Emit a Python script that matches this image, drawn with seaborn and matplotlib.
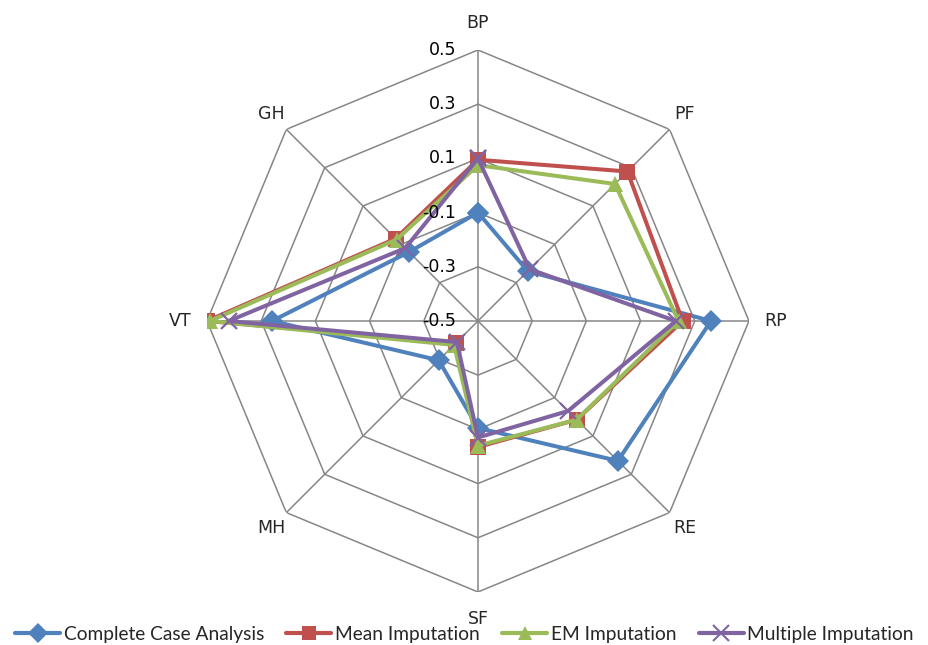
import numpy as np
import pandas as pd
import matplotlib.pyplot as plt
import matplotlib.transforms as mtrans
from matplotlib.lines import Line2D
import seaborn as sns

axes_names = ['BP', 'PF', 'RP', 'RE', 'SF', 'MH', 'VT', 'GH']
complete_case = [-0.10, -0.24, 0.36, 0.23, -0.105, -0.295, 0.26, -0.14]
mean_imp = [0.095, 0.28, 0.255, 0.015, -0.035, -0.385, 0.50, -0.07]
em_imp = [0.075, 0.215, 0.24, 0.015, -0.04, -0.375, 0.49, -0.075]
multiple_imp = [0.10, -0.23, 0.23, -0.03, -0.07, -0.39, 0.42, -0.12]
tick_levels = [-0.5, -0.3, -0.1, 0.1, 0.3, 0.5]

methods = ['Complete Case Analysis', 'Mean Imputation', 'EM Imputation', 'Multiple Imputation']
series = [complete_case, mean_imp, em_imp, multiple_imp]
colors = ['#4F81BD', '#C0504D', '#9BBB59', '#8064A2']
marks = ['D', 's', '^', 'x']

sns.set_style('white')
plt.rcParams['font.family'] = ['DejaVu Sans']

n = len(axes_names)
theta = np.linspace(0, 2 * np.pi, n, endpoint=False)
theta_closed = np.append(theta, 2 * np.pi)

rows = []
for m, vals in zip(methods, series):
    for t, v in zip(theta_closed, list(vals) + [vals[0]]):
        rows.append({'theta': t, 'value': v, 'method': m})
df = pd.DataFrame(rows)

fig = plt.figure(figsize=(9.29, 6.45), dpi=100)
ax = fig.add_axes([0.2228, 0.0822, 0.5834, 0.8403], projection='polar')
ax.set_theta_zero_location('N')
ax.set_theta_direction(-1)
ax.set_ylim(-0.5, 0.5)
ax.grid(False)
ax.spines['polar'].set_visible(False)
ax.set_xticks([])
ax.set_yticks([])
ax.patch.set_alpha(0)

# octagon grid
for lv in tick_levels[1:]:
    ax.plot(theta_closed, [lv] * (n + 1), color='#868686', lw=1.1, zorder=1)
for t in theta:
    ax.plot([t, t], [-0.5, 0.5], color='#868686', lw=1.1, zorder=1)

for m, c, mk in zip(methods, colors, marks):
    sub = df[df['method'] == m]
    sns.lineplot(data=sub, x='theta', y='value', ax=ax, color=c, lw=2.9,
                 marker=mk, markersize=11.5 if mk != 'x' else 12,
                 markeredgecolor=c, markeredgewidth=1.6 if mk == 'x' else 0,
                 sort=False, legend=False, zorder=3)
ax.set_xlabel('')
ax.set_ylabel('')
ax.set_ylim(-0.5, 0.5)

# radial tick labels
off = mtrans.offset_copy(ax.transData, fig=fig, x=-22, y=0, units='dots')
for lv in tick_levels:
    ax.text(0, lv, f'{lv:.1f}', transform=off, ha='right', va='center', fontsize=12.5, color='black')

# category labels
for t, name in zip(theta, axes_names):
    r = 0.58 + 0.018 * abs(np.cos(2 * t))
    ax.text(t, r, name, ha='center', va='center', fontsize=12.5, clip_on=False)

handles = [Line2D([0], [0], color=c, lw=3.0, marker=mk, markersize=10 if mk != 'x' else 11,
                  markeredgecolor=c, markeredgewidth=1.5 if mk == 'x' else 0)
           for c, mk in zip(colors, marks)]
fig.legend(handles, methods, loc='center', bbox_to_anchor=(0.5, 0.016), ncol=4,
           frameon=False, prop={'family': ['Lato', 'DejaVu Sans'], 'size': 13.8},
           handlelength=2.35, handletextpad=0.2, columnspacing=1.15, borderaxespad=0)

fig.savefig('out.png', dpi=100)
